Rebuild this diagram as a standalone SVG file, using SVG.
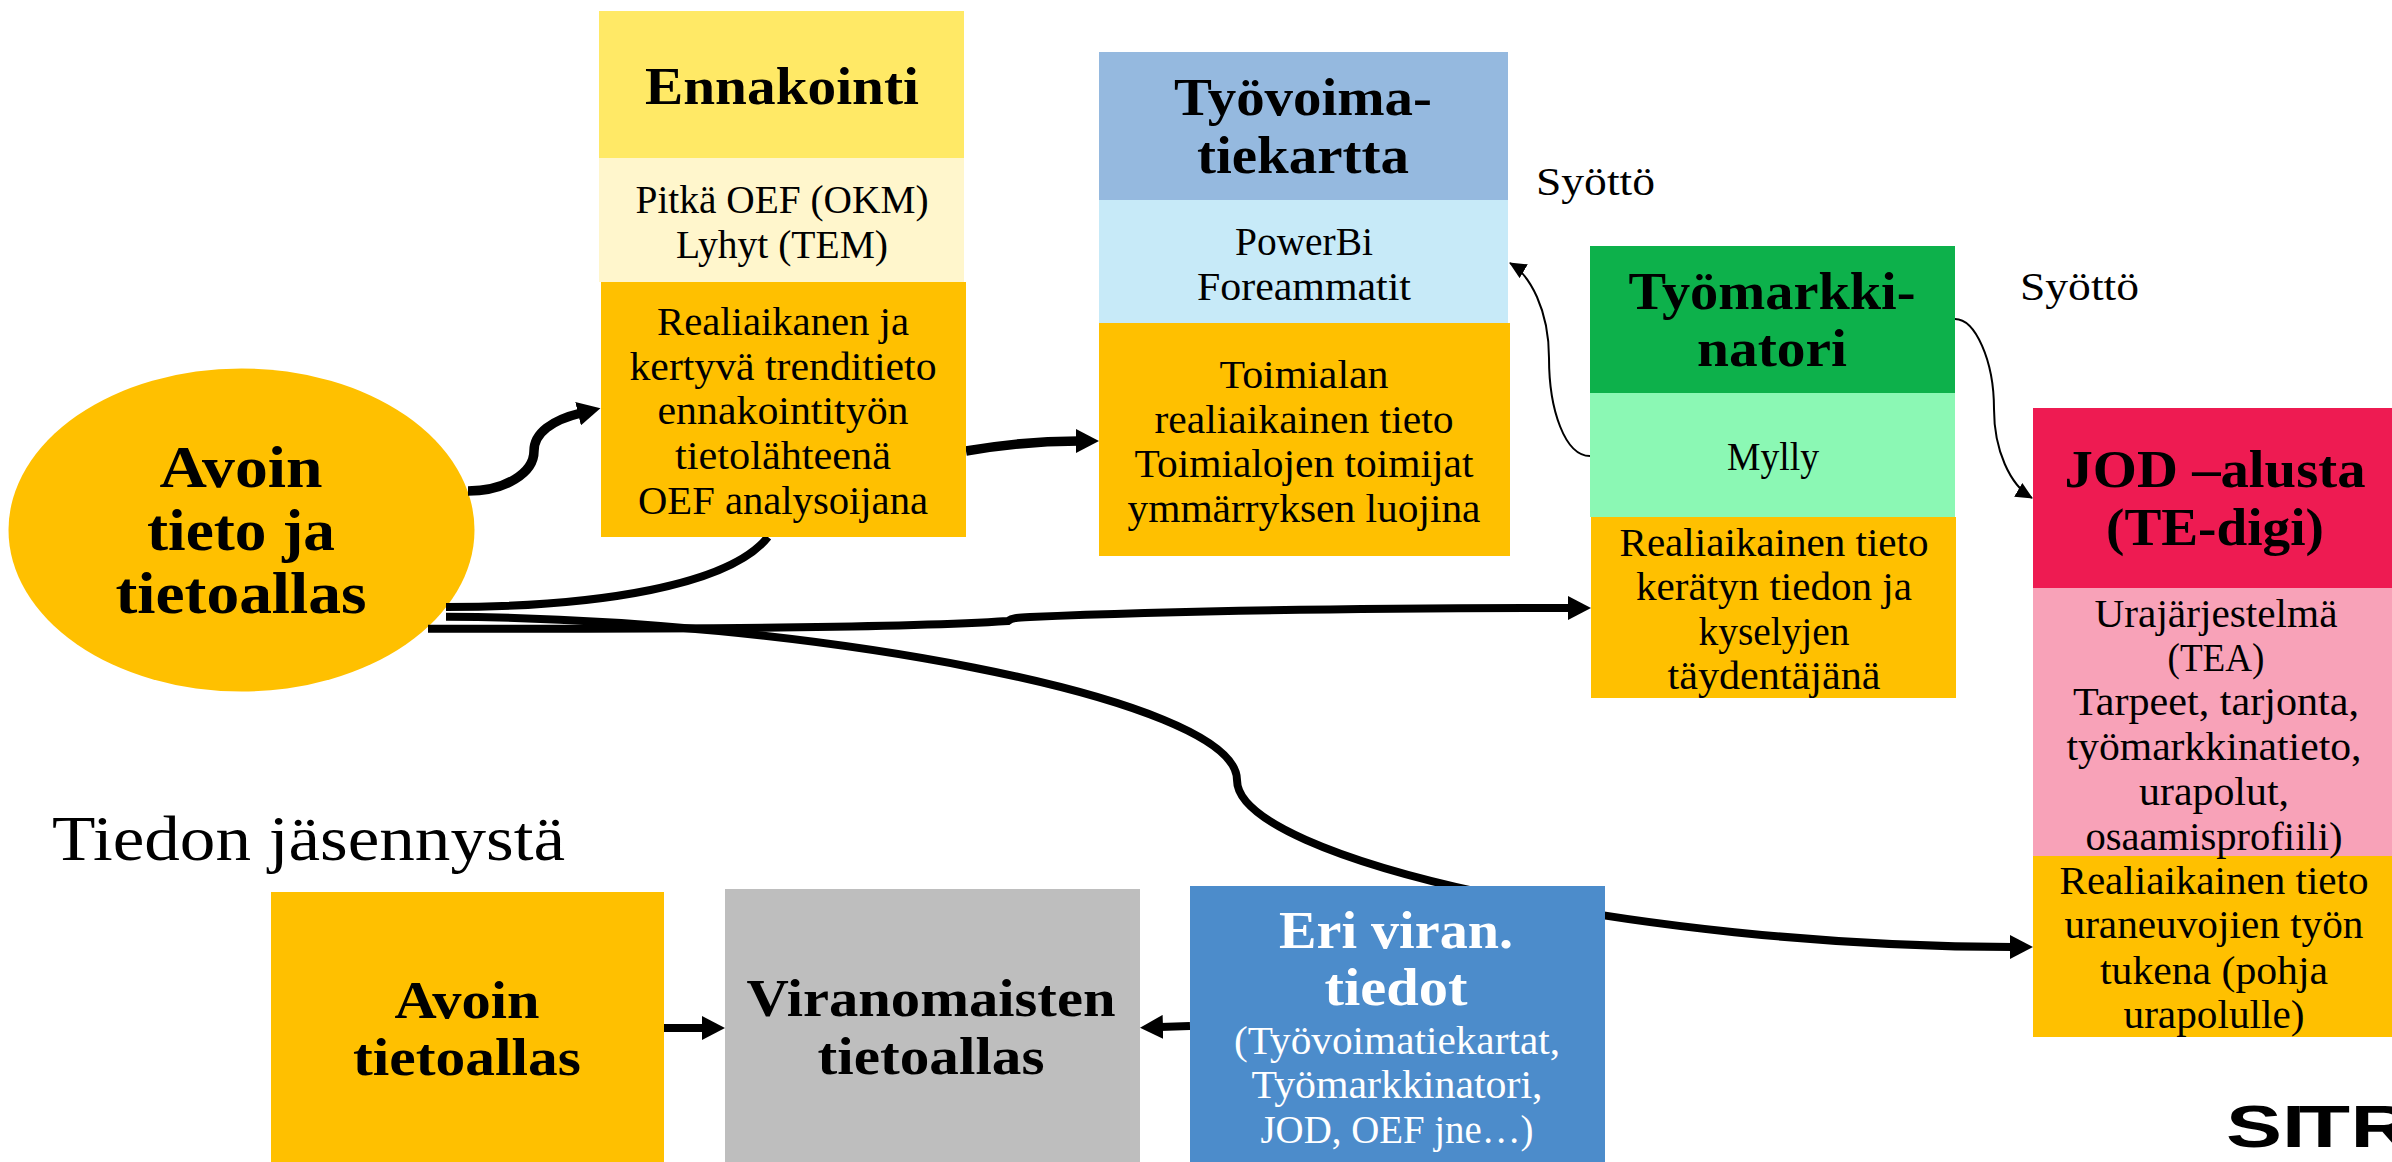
<svg xmlns="http://www.w3.org/2000/svg" width="2392" height="1162" viewBox="0 0 2392 1162">
<style>
text{font-family:"Liberation Serif","DejaVu Serif",serif;fill:#000;text-anchor:middle}
.b{font-size:41px}
.h{font-size:53px;font-weight:bold}
.e{font-size:59px;font-weight:bold}
.w{fill:#fff}
.l{text-anchor:start}
.big{font-size:63px}
.logo{font-family:"Liberation Sans",sans-serif;font-size:60px;font-weight:bold;text-anchor:start}
.thick{fill:none;stroke:#000;stroke-width:8}
.heavy{fill:none;stroke:#000;stroke-width:9.500}
.thin{fill:none;stroke:#000;stroke-width:2}
</style>
<defs>
<marker id="ah" markerUnits="userSpaceOnUse" markerWidth="24" markerHeight="24" refX="3" refY="12" orient="auto"><path d="M0 0L23 12L0 24Z" fill="#000"/></marker>
<marker id="as" markerUnits="userSpaceOnUse" markerWidth="18" markerHeight="16" refX="16" refY="8" orient="auto"><path d="M0 0L17 8L0 16Z" fill="#000"/></marker>
</defs>
<rect width="2392" height="1162" fill="#fff"/>
<g id="avoin-tieto">
<ellipse cx="241.500" cy="530" rx="233" ry="161.500" fill="#FFC000"/>
<text class="e" x="241" y="487" textLength="163" lengthAdjust="spacingAndGlyphs">Avoin</text>
<text class="e" x="241" y="550" textLength="188" lengthAdjust="spacingAndGlyphs">tieto ja</text>
<text class="e" x="241" y="613" textLength="251" lengthAdjust="spacingAndGlyphs">tietoallas</text>
</g>
<g id="connectors">
<path class="heavy" d="M468 491C505 491 534 473 534 451C534 433 552 420 581 413" marker-end="url(#ah)"/>
<path class="heavy" d="M966 451C1000 445 1040 441 1079 441" marker-end="url(#ah)"/>
<path class="thick" d="M446 607C600 607 730 585 768 537"/>
<path class="thick" d="M428 628.700C700 628.700 900 628 1008 621C1012 618 1016 617.700 1030 617C1200 610 1400 608 1571 608" marker-end="url(#ah)"/>
<path class="thick" d="M446 616.700C800 618 1237 697 1237 780C1237 860 1640 947 2013 947" marker-end="url(#ah)"/>
<path class="thin" d="M1590 456C1565 456 1549 410 1549 358C1549 310 1530 275 1510 263" marker-end="url(#as)"/>
<path class="thin" d="M1955 319C1975 319 1994 360 1994 409C1994 450 2010 485 2032 498" marker-end="url(#as)"/>
<path class="thick" d="M664 1028L705 1028" marker-end="url(#ah)"/>
<path class="thick" d="M1190 1026L1160 1027" marker-end="url(#ah)"/>
</g>
<g id="ennakointi">
<rect x="599" y="11" width="365" height="147" fill="#FFE966"/>
<rect x="599" y="158" width="365" height="124" fill="#FFF6CC"/>
<rect x="601" y="282" width="365" height="255" fill="#FFC000"/>
<text class="h" x="782" y="104" textLength="274" lengthAdjust="spacingAndGlyphs">Ennakointi</text>
<text class="b" x="782" y="213" textLength="293" lengthAdjust="spacingAndGlyphs">Pitkä OEF (OKM)</text>
<text class="b" x="782" y="258" textLength="212" lengthAdjust="spacingAndGlyphs">Lyhyt (TEM)</text>
<text class="b" x="783" y="335" textLength="252" lengthAdjust="spacingAndGlyphs">Realiaikanen ja</text>
<text class="b" x="783" y="379.500" textLength="307" lengthAdjust="spacingAndGlyphs">kertyvä trenditieto</text>
<text class="b" x="783" y="424" textLength="251" lengthAdjust="spacingAndGlyphs">ennakointityön</text>
<text class="b" x="783" y="469" textLength="216" lengthAdjust="spacingAndGlyphs">tietolähteenä</text>
<text class="b" x="783" y="513.500" textLength="290" lengthAdjust="spacingAndGlyphs">OEF analysoijana</text>
</g>
<g id="tyovoimatiekartta">
<rect x="1099" y="52" width="409" height="148" fill="#95B9DF"/>
<rect x="1099" y="200" width="409" height="123" fill="#C7EAF8"/>
<rect x="1099" y="323" width="411" height="233" fill="#FFC000"/>
<text class="h" x="1303" y="115" textLength="258" lengthAdjust="spacingAndGlyphs">Työvoima-</text>
<text class="h" x="1303" y="173" textLength="212" lengthAdjust="spacingAndGlyphs">tiekartta</text>
<text class="b" x="1304" y="254.500" textLength="138" lengthAdjust="spacingAndGlyphs">PowerBi</text>
<text class="b" x="1304" y="300" textLength="214" lengthAdjust="spacingAndGlyphs">Foreammatit</text>
<text class="b" x="1304" y="388" textLength="169" lengthAdjust="spacingAndGlyphs">Toimialan</text>
<text class="b" x="1304" y="433" textLength="299" lengthAdjust="spacingAndGlyphs">realiaikainen tieto</text>
<text class="b" x="1304" y="477" textLength="339" lengthAdjust="spacingAndGlyphs">Toimialojen toimijat</text>
<text class="b" x="1304" y="522" textLength="353" lengthAdjust="spacingAndGlyphs">ymmärryksen luojina</text>
</g>
<g id="syotto-1"><text class="b l" x="1536" y="195" textLength="119" lengthAdjust="spacingAndGlyphs">Syöttö</text></g>
<g id="tyomarkkinatori">
<rect x="1590" y="246" width="365" height="147" fill="#0DB14B"/>
<rect x="1590" y="393" width="365" height="124" fill="#8BF8B4"/>
<rect x="1591" y="517" width="365" height="181" fill="#FFC000"/>
<text class="h" x="1772" y="309" textLength="287" lengthAdjust="spacingAndGlyphs">Työmarkki-</text>
<text class="h" x="1772" y="366" textLength="150" lengthAdjust="spacingAndGlyphs">natori</text>
<text class="b" x="1773" y="470" textLength="92" lengthAdjust="spacingAndGlyphs">Mylly</text>
<text class="b" x="1774" y="556" textLength="309" lengthAdjust="spacingAndGlyphs">Realiaikainen tieto</text>
<text class="b" x="1774" y="600" textLength="276" lengthAdjust="spacingAndGlyphs">kerätyn tiedon ja</text>
<text class="b" x="1774" y="645" textLength="151" lengthAdjust="spacingAndGlyphs">kyselyjen</text>
<text class="b" x="1774" y="689" textLength="213" lengthAdjust="spacingAndGlyphs">täydentäjänä</text>
</g>
<g id="syotto-2"><text class="b l" x="2020" y="299.500" textLength="119" lengthAdjust="spacingAndGlyphs">Syöttö</text></g>
<g id="jod">
<rect x="2033" y="408" width="359" height="180" fill="#EE1B52"/>
<rect x="2033" y="588" width="359" height="268" fill="#F8A2B8"/>
<rect x="2033" y="856" width="359" height="181" fill="#FFC000"/>
<text class="h" x="2215" y="487" textLength="301" lengthAdjust="spacingAndGlyphs">JOD –alusta</text>
<text class="h" x="2215" y="545" textLength="218" lengthAdjust="spacingAndGlyphs">(TE-digi)</text>
<text class="b" x="2216" y="626.500" textLength="243" lengthAdjust="spacingAndGlyphs">Urajärjestelmä</text>
<text class="b" x="2216" y="671" textLength="97" lengthAdjust="spacingAndGlyphs">(TEA)</text>
<text class="b" x="2216" y="715" textLength="286" lengthAdjust="spacingAndGlyphs">Tarpeet, tarjonta,</text>
<text class="b" x="2214" y="760" textLength="295" lengthAdjust="spacingAndGlyphs">työmarkkinatieto,</text>
<text class="b" x="2214" y="805" textLength="150" lengthAdjust="spacingAndGlyphs">urapolut,</text>
<text class="b" x="2214" y="850" textLength="257" lengthAdjust="spacingAndGlyphs">osaamisprofiili)</text>
<text class="b" x="2214" y="894" textLength="309" lengthAdjust="spacingAndGlyphs">Realiaikainen tieto</text>
<text class="b" x="2214" y="938" textLength="299" lengthAdjust="spacingAndGlyphs">uraneuvojien työn</text>
<text class="b" x="2214" y="984" textLength="228" lengthAdjust="spacingAndGlyphs">tukena (pohja</text>
<text class="b" x="2214" y="1028" textLength="181" lengthAdjust="spacingAndGlyphs">urapolulle)</text>
</g>
<g id="tiedon-jasennysta"><text class="b l big" x="52" y="860" textLength="513" lengthAdjust="spacingAndGlyphs">Tiedon jäsennystä</text></g>
<g id="avoin-tietoallas">
<rect x="271" y="892" width="393" height="270" fill="#FFC000"/>
<text class="h" x="467" y="1018" textLength="145" lengthAdjust="spacingAndGlyphs">Avoin</text>
<text class="h" x="467" y="1075" textLength="228" lengthAdjust="spacingAndGlyphs">tietoallas</text>
</g>
<g id="viranomaisten-tietoallas">
<rect x="725" y="889" width="415" height="273" fill="#BEBEBE"/>
<text class="h" x="931" y="1016" textLength="369" lengthAdjust="spacingAndGlyphs">Viranomaisten</text>
<text class="h" x="931" y="1074" textLength="227" lengthAdjust="spacingAndGlyphs">tietoallas</text>
</g>
<g id="eri-viran">
<rect x="1190" y="886" width="415" height="276" fill="#4C8CCB"/>
<text class="h w" x="1396" y="948" textLength="234" lengthAdjust="spacingAndGlyphs">Eri viran.</text>
<text class="h w" x="1396" y="1005" textLength="143" lengthAdjust="spacingAndGlyphs">tiedot</text>
<text class="b w" x="1397" y="1054" textLength="326" lengthAdjust="spacingAndGlyphs">(Työvoimatiekartat,</text>
<text class="b w" x="1397" y="1098" textLength="291" lengthAdjust="spacingAndGlyphs">Työmarkkinatori,</text>
<text class="b w" x="1397" y="1143" textLength="273" lengthAdjust="spacingAndGlyphs">JOD, OEF jne…)</text>
</g>
<g id="logo"><text class="logo" transform="translate(2226 1147) scale(1.4 1)" x="0 40 52 89" y="0">SITR</text></g>
</svg>
